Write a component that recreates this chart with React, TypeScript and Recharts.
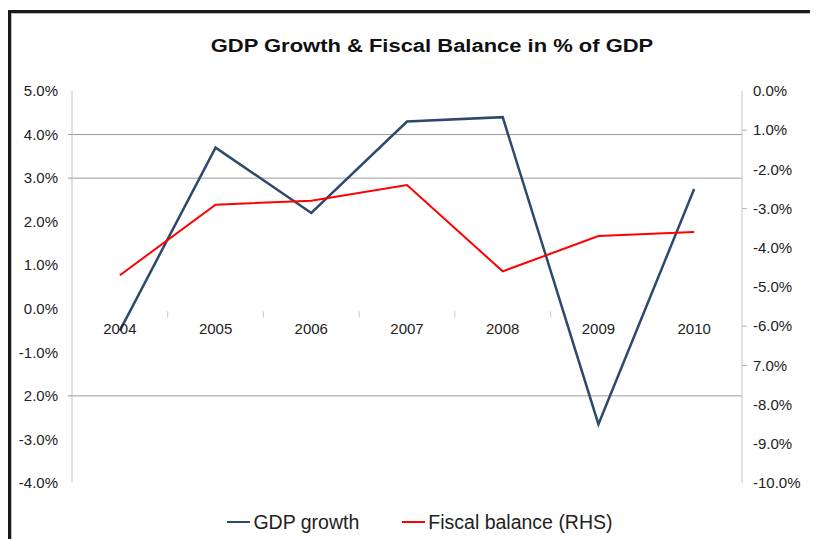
import React from "react";
import {
  LineChart,
  Line,
  XAxis,
  YAxis,
  ReferenceLine,
  ReferenceDot,
  Legend,
} from "recharts";

const years = [2004, 2005, 2006, 2007, 2008, 2009, 2010];
const gdpGrowth = [-0.5, 3.7, 2.2, 4.3, 4.4, -2.65, 2.75];
const fiscalBalance = [-4.7, -2.9, -2.8, -2.4, -4.6, -3.7, -3.6];

const leftTicks = [5, 4, 3, 2, 1, 0, -1, -2, -3, -4];
const leftTickLabels = ["5.0%", "4.0%", "3.0%", "2.0%", "1.0%", "0.0%", "-1.0%", "2.0%", "-3.0%", "-4.0%"];
const rightTicks = [0, -1, -2, -3, -4, -5, -6, -7, -8, -9, -10];
const rightTickLabels = ["0.0%", "1.0%", "-2.0%", "-3.0%", "-4.0%", "-5.0%", "-6.0%", "7.0%", "-8.0%", "-9.0%", "-10.0%"];

// horizontal rules on the left scale, and the few right-axis tick marks that show
const gridValues = [4, 3, -2];
const rightTickMarks = [-1, -3, -6, -7];
// tick marks sit between the year labels
const betweenYears = years.slice(0, 5).map((y) => y + 0.5);

const FONT = '"Liberation Sans", Arial, sans-serif';
const TEXT = "#222";
const NAVY = "#2c4a6e";
const RED = "#ff0000";

const data = years.map((year, i) => ({
  year,
  gdp: gdpGrowth[i],
  fiscal: fiscalBalance[i],
}));

function LeftTick({ x, y, payload }: any) {
  const i = leftTicks.indexOf(payload.value);
  return (
    <g>
      <text x={x} y={y} dy="0.35em" textAnchor="end" fontSize={15} fill={TEXT} fontFamily={FONT}>
        {leftTickLabels[i]}
      </text>
      {gridValues.includes(payload.value) && (
        <line x1={x + 10} x2={x + 14} y1={y} y2={y} stroke="#9a9a9a" />
      )}
    </g>
  );
}

function RightTick({ x, y, payload }: any) {
  const i = rightTicks.indexOf(payload.value);
  return (
    <g>
      <text x={x} y={y} dy="0.35em" textAnchor="start" fontSize={15} fill={TEXT} fontFamily={FONT}>
        {rightTickLabels[i]}
      </text>
      {rightTickMarks.includes(payload.value) && (
        <line x1={x - 11} x2={x - 6} y1={y} y2={y} stroke="#b0b0b0" />
      )}
    </g>
  );
}

function LegendBox() {
  const items = [
    { label: "GDP growth", color: NAVY },
    { label: "Fiscal balance (RHS)", color: RED },
  ];
  return (
    <div
      style={{
        height: 56,
        boxSizing: "border-box",
        paddingTop: 22,
        paddingLeft: 12,
        display: "flex",
        justifyContent: "center",
        alignItems: "center",
        fontFamily: FONT,
        fontSize: 19.5,
        color: TEXT,
      }}
    >
      {items.map((it, i) => (
        <div key={it.label} style={{ display: "flex", alignItems: "center", marginLeft: i ? 43 : 0 }}>
          <span style={{ width: 23, height: 2.5, background: it.color, marginRight: 3 }} />
          <span>{it.label}</span>
        </div>
      ))}
    </div>
  );
}

export default function App() {
  return (
    <div style={{ position: "relative", width: 810, height: 531, fontFamily: FONT }}>
      <style>{"html, body { overflow: hidden; }"}</style>
      {/* frame: heavy rule along the top and left edges only */}
      <div
        style={{
          position: "absolute",
          top: 2,
          left: 0,
          width: 830,
          height: 529,
          boxSizing: "border-box",
          borderTop: "3px solid #1a1a1a",
          borderLeft: "3px solid #1a1a1a",
          boxShadow: "inset 1px 1px 0 #bdbdbd",
        }}
      />
      <div
        style={{
          position: "absolute",
          top: 27,
          left: 424,
          transform: "translateX(-50%) scaleX(1.22)",
          whiteSpace: "nowrap",
          fontSize: 18,
          lineHeight: "22px",
          fontWeight: "bold",
          color: "#111",
        }}
      >
        GDP Growth &amp; Fiscal Balance in % of GDP
      </div>
      <div style={{ position: "absolute", top: 0, left: 0 }}>
        <LineChart width={810} height={531} data={data} margin={{ top: 83, right: 6, bottom: 0, left: 8 }}>
          <XAxis dataKey="year" type="number" domain={[2003.5, 2010.5]} hide />
          <YAxis
            yAxisId="left"
            width={56}
            domain={[-4, 5]}
            ticks={leftTicks}
            interval={0}
            axisLine={{ stroke: "#c4c4c4" }}
            tickLine={false}
            tickSize={0}
            tickMargin={14}
            tick={<LeftTick />}
          />
          <YAxis
            yAxisId="right"
            orientation="right"
            width={70}
            domain={[-10, 0]}
            ticks={rightTicks}
            interval={0}
            axisLine={{ stroke: "#c4c4c4" }}
            tickLine={false}
            tickSize={0}
            tickMargin={11}
            tick={<RightTick />}
          />
          {gridValues.map((v) => (
            <ReferenceLine key={v} yAxisId="left" y={v} stroke="#9a9a9a" />
          ))}
          {betweenYears.map((v) => (
            <ReferenceLine
              key={v}
              yAxisId="left"
              segment={[
                { x: v, y: -0.06 },
                { x: v, y: -0.2 },
              ]}
              stroke="#c8c8c8"
            />
          ))}
          {years.map((y) => (
            <ReferenceDot
              key={y}
              yAxisId="left"
              x={y}
              y={0}
              r={1}
              fill="none"
              stroke="none"
              label={{ value: String(y), position: "bottom", offset: 14, fill: TEXT, fontSize: 15, fontFamily: FONT }}
            />
          ))}
          <Line
            yAxisId="left"
            dataKey="gdp"
            name="GDP growth"
            type="linear"
            stroke={NAVY}
            strokeWidth={2.5}
            dot={false}
            isAnimationActive={false}
          />
          <Line
            yAxisId="right"
            dataKey="fiscal"
            name="Fiscal balance (RHS)"
            type="linear"
            stroke={RED}
            strokeWidth={2}
            dot={false}
            isAnimationActive={false}
          />
          <Legend verticalAlign="bottom" height={56} content={<LegendBox />} />
        </LineChart>
      </div>
    </div>
  );
}
